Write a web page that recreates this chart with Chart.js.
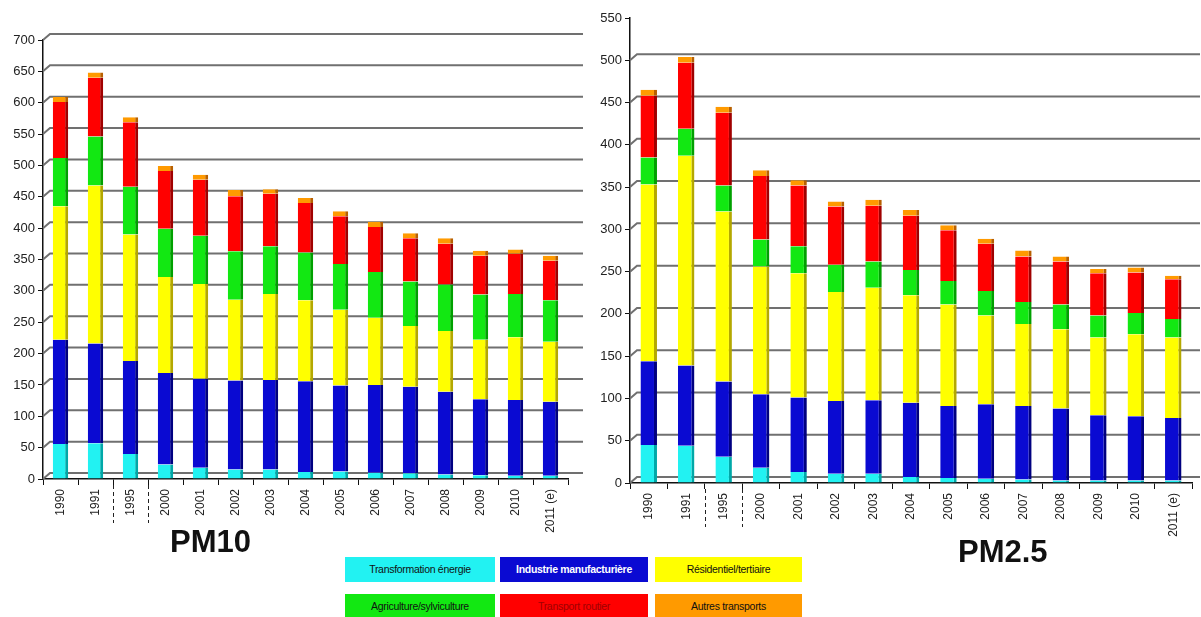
<!DOCTYPE html>
<html>
<head>
<meta charset="utf-8">
<script src="https://cdn.jsdelivr.net/npm/chart.js@4.4.1/dist/chart.umd.min.js"></script>
<style>
  body { margin: 0; background: #fff; width: 1201px; height: 617px; overflow: hidden; position: relative; font-family: "Liberation Sans", Arial, sans-serif; }
  #c1 { position: absolute; left: 0; top: 0; }
  #c2 { position: absolute; left: 590px; top: 0; }
  .ttl { position: absolute; font-weight: bold; font-size: 31px; color: #111; }
  .lg { position: absolute; height: 25px; line-height: 25px; text-align: center; font-size: 10.5px; letter-spacing: -0.3px; }
</style>
</head>
<body>
<canvas id="c1" width="590" height="545"></canvas>
<canvas id="c2" width="611" height="545"></canvas>
<div class="ttl" style="left:170px;top:524px;">PM10</div>
<div class="ttl" style="left:958px;top:534px;">PM2.5</div>
<div id="legend"></div>
<script>
// categories
var years = ['1990','1991','1995','2000','2001','2002','2003','2004','2005','2006','2007','2008','2009','2010','2011 (e)'];
var sectors = ['Transformation énergie','Industrie manufacturière','Résidentiel/tertiaire','Agriculture/sylviculture','Transport routier','Autres transports'];

// PM10 (kt) per sector
var pm10_energie   = [56,57,40,23,18,15,15,11,12,10,9,7,6,5,5];
var pm10_industrie = [166,159,148,146,142,142,143,145,137,140,138,132,121,121,118];
var pm10_resid     = [213,252,202,153,151,129,137,129,121,107,97,97,95,100,96];
var pm10_agri      = [77,78,76,77,77,77,76,76,73,73,71,74,72,69,66];
var pm10_routier   = [89,94,103,92,89,88,84,79,76,72,69,65,62,64,63];
var pm10_autres    = [8,8,8,8,8,10,7,8,8,8,8,9,8,7,8];

// PM2.5 (kt) per sector
var pm25_energie   = [45,44,31,18,13,11,11,7,6,5,4,3,3,3,3];
var pm25_industrie = [99,95,89,87,88,86,87,88,85,88,87,85,77,76,74];
var pm25_resid     = [209,248,201,151,147,129,133,127,120,105,97,94,92,97,95];
var pm25_agri      = [32,32,31,32,32,32,31,30,28,29,26,29,26,25,22];
var pm25_routier   = [73,78,86,75,72,69,66,64,60,56,54,51,50,48,47];
var pm25_autres    = [7,7,7,7,6,6,7,7,6,6,7,6,5,6,4];

var colors = ['#22f2f2','#0a0ad2','#ffff00','#12e812','#ff0000','#ff9a00'];
var sides  = ['#00a8a8','#000080','#b4a800','#00a000','#a00000','#b86000'];
var textCol = ['#111','#fff','#111','#111','#a00000','#111'];

// back wall grid lines with a small 3D slant
var backGrid = {
  id: 'backGrid',
  beforeDatasetsDraw: function(chart, args, o) {
    var ctx = chart.ctx, a = chart.chartArea, y = chart.scales.y;
    ctx.save();
    ctx.strokeStyle = '#707070';
    ctx.lineWidth = 2;
    y.ticks.forEach(function(t) {
      if (o.skipTop && t.value === y.max) return;
      var py = y.getPixelForValue(t.value);
      ctx.beginPath();
      ctx.moveTo(a.left, py);
      ctx.lineTo(a.left + 7, py - 6);
      ctx.lineTo(chart.width - o.gap, py - 6);
      ctx.stroke();
    });
    ctx.restore();
  }
};

// dashed separators between 1991|1995 and 1995|2000
var dashes = {
  id: 'dashes',
  afterDraw: function(chart) {
    var ctx = chart.ctx, a = chart.chartArea, x = chart.scales.x;
    ctx.save();
    ctx.strokeStyle = '#222';
    ctx.lineWidth = 1;
    ctx.setLineDash([4, 3]);
    [1, 2].forEach(function(i) {
      var px = Math.round((x.getPixelForValue(i) + x.getPixelForValue(i + 1)) / 2) + 0.5;
      ctx.beginPath();
      ctx.moveTo(px, a.bottom + 6);
      ctx.lineTo(px, a.bottom + 44);
      ctx.stroke();
    });
    ctx.restore();
  }
};

function makeChart(id, series, yMax, pad, axisW, gap, skipTop) {
  var ctx = document.getElementById(id).getContext('2d');
  var datasets = [];
  for (var i = 0; i < series.length; i++) {
    datasets.push({
      label: sectors[i],
      data: series[i],
      backgroundColor: colors[i],
      borderColor: sides[i],
      borderWidth: {top: 0, right: 3, bottom: 0, left: 0},
      borderSkipped: false,
      barPercentage: 0.44,
      categoryPercentage: 1
    });
  }
  return new Chart(ctx, {
    type: 'bar',
    data: { labels: years, datasets: datasets },
    options: {
      responsive: false,
      animation: false,
      layout: { padding: pad },
      plugins: {
        legend: { display: false },
        tooltip: { enabled: false },
        backGrid: { gap: gap, skipTop: skipTop }
      },
      scales: {
        x: {
          stacked: true,
          border: { display: true, color: '#111', width: 1.5 },
          grid: { display: true, drawOnChartArea: false, drawTicks: true, tickLength: 6, color: '#111', offset: true },
          ticks: { minRotation: 90, maxRotation: 90, color: '#222', padding: 4, font: { family: 'Liberation Sans', size: 12 } },
          afterFit: function(s) { s.height = 545 - pad.bottomLine; }
        },
        y: {
          stacked: true,
          min: 0,
          max: yMax,
          border: { display: true, color: '#111', width: 1.5 },
          grid: { display: true, drawOnChartArea: false, drawTicks: true, tickLength: 5, color: '#111' },
          ticks: { stepSize: 50, color: '#222', padding: 3, font: { family: 'Liberation Sans', size: 13 } },
          afterFit: function(s) { s.width = axisW; }
        }
      }
    },
    plugins: [backGrid, dashes]
  });
}

makeChart('c1', [pm10_energie, pm10_industrie, pm10_resid, pm10_agri, pm10_routier, pm10_autres],
  700, {top: 40, right: 22, left: 0, bottom: 0, bottomLine: 479}, 43, 7, false);
makeChart('c2', [pm25_energie, pm25_industrie, pm25_resid, pm25_agri, pm25_routier, pm25_autres],
  550, {top: 18, right: 9, left: 0, bottom: 0, bottomLine: 483}, 40, 1, true);

// legend boxes
var lgX = [345, 500, 655];
var lgW = [150, 148, 147];
var lgY = [557, 594];
var lg = document.getElementById('legend');
sectors.forEach(function(s, i) {
  var d = document.createElement('div');
  d.className = 'lg';
  d.style.left = lgX[i % 3] + 'px';
  d.style.top = lgY[Math.floor(i / 3)] + 'px';
  d.style.width = lgW[i % 3] + 'px';
  d.style.background = colors[i];
  d.style.color = textCol[i];
  if (i === 1) d.style.fontWeight = 'bold';
  d.textContent = s;
  lg.appendChild(d);
});
</script>
</body>
</html>
